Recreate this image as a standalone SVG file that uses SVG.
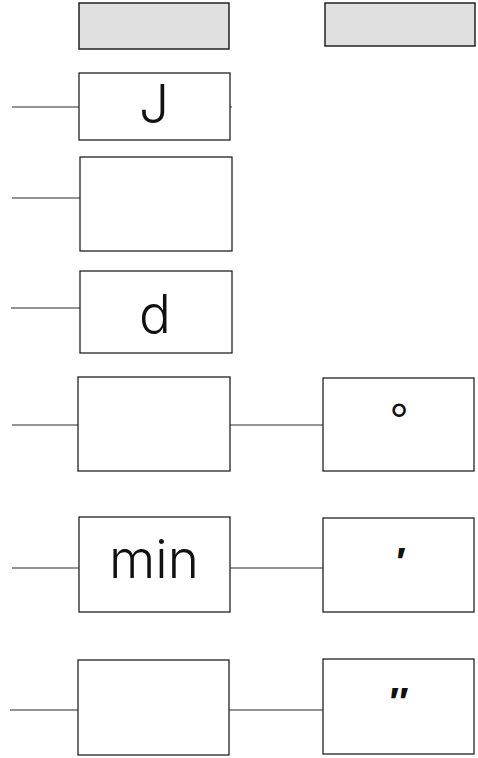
<svg xmlns="http://www.w3.org/2000/svg" width="478" height="758" viewBox="0 0 478 758">
  <style>
    .box { fill: #ffffff; stroke: #222222; stroke-width: 1.3; }
    .head { fill: #e0e0e0; stroke: #222222; stroke-width: 1.5; }
    .wire { stroke: #2a2a2a; stroke-width: 1.2; fill: none; }
    .big { font-family: "Inter", "Open Sans", "Liberation Sans", sans-serif; font-weight: 300; font-size: 53px; fill: #111111; text-anchor: middle; }
    .sym { font-family: "Liberation Sans", "DejaVu Sans", sans-serif; font-size: 40px; font-weight: bold; fill: #111111; text-anchor: middle; }
    .deg { font-family: "Liberation Sans", "DejaVu Sans", sans-serif; font-size: 48px; fill: #111111; text-anchor: middle; }
  </style>
  <rect width="478" height="758" fill="#ffffff"/>

  <!-- connectors -->
  <g id="connectors">
    <line class="wire" x1="12" y1="107" x2="79" y2="107"/>
    <line class="wire" x1="230" y1="107" x2="232" y2="107"/>
    <line class="wire" x1="12" y1="198" x2="80" y2="198"/>
    <line class="wire" x1="11" y1="308" x2="80" y2="308"/>
    <line class="wire" x1="12" y1="425" x2="78" y2="425"/>
    <line class="wire" x1="230" y1="425" x2="323" y2="425"/>
    <line class="wire" x1="12" y1="568" x2="79" y2="568"/>
    <line class="wire" x1="230" y1="568" x2="323" y2="568"/>
    <line class="wire" x1="10" y1="710" x2="78" y2="710"/>
    <line class="wire" x1="229" y1="710" x2="323" y2="710"/>
  </g>

  <!-- header cells -->
  <g id="head-left"><rect class="head" x="79" y="3" width="150" height="46"/></g>
  <g id="head-right"><rect class="head" x="325" y="3" width="150" height="43"/></g>

  <!-- unit boxes -->
  <g id="unit-j">
    <rect class="box" x="79" y="73" width="151" height="67"/>
    <text class="big" x="154" y="123">J</text>
  </g>
  <g id="unit-blank1">
    <rect class="box" x="80" y="157" width="152" height="94"/>
  </g>
  <g id="unit-d">
    <rect class="box" x="80" y="271" width="152" height="82"/>
    <text class="big" x="155" y="333">d</text>
  </g>
  <g id="unit-blank2">
    <rect class="box" x="78" y="377" width="152" height="94"/>
  </g>
  <g id="unit-min">
    <rect class="box" x="79" y="517" width="151" height="95"/>
    <text class="big" x="154" y="578">min</text>
  </g>
  <g id="unit-blank3">
    <rect class="box" x="78" y="660" width="151" height="95"/>
  </g>

  <!-- symbol boxes -->
  <g id="sym-degree">
    <rect class="box" x="323" y="378" width="151" height="93"/>
    <text class="deg" x="399" y="437">°</text>
  </g>
  <g id="sym-prime">
    <rect class="box" x="323" y="518" width="151" height="94"/>
    <text class="sym" x="401" y="576">′</text>
  </g>
  <g id="sym-dprime">
    <rect class="box" x="323" y="659" width="151" height="95"/>
    <text class="sym" x="399" y="716">″</text>
  </g>
</svg>
